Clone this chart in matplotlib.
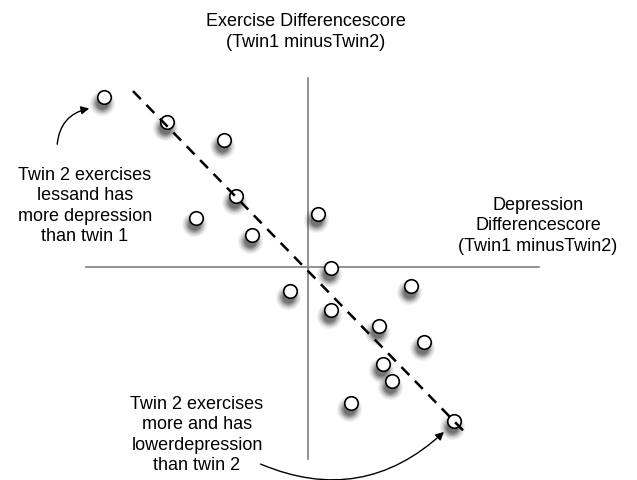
import numpy as np
import matplotlib
matplotlib.use('Agg')
import matplotlib.pyplot as plt
from matplotlib.patches import FancyArrowPatch

plt.rcParams['font.family'] = ['Liberation Sans', 'DejaVu Sans']

# difference scores (twin 1 minus twin 2)
depression_diff = [-10.2, -7.05, -4.2, -3.6, -5.6, -2.8, 0.5, 1.15, -0.9, 5.15,
                   1.15, 3.55, 5.8, 3.75, 4.2, 2.15, 7.3]
exercise_diff = [8.5, 7.25, 6.35, 3.55, 2.45, 1.6, 2.65, -0.05, -1.2, -0.95,
                 -2.15, -2.95, -3.75, -4.85, -5.7, -6.8, -7.7]

# fitted trend (dashed)
fit_x = [-8.75, 7.95]
fit_slope = -1.028
fit_intercept = -0.2

x_title = "Exercise Differencescore\n(Twin1 minusTwin2)"
y_title = "Depression\nDifferencescore\n(Twin1 minusTwin2)"
note_upper = "Twin 2 exercises\nlessand has\nmore depression\nthan twin 1"
note_lower = "Twin 2 exercises\nmore and has\nlowerdepression\nthan twin 2"

W, H = 637, 481
ORIGIN = (308, 268)
SCALE = 20.0


def px(x, y):
	# pixel position -> data position
	return (x - ORIGIN[0]) / SCALE, (ORIGIN[1] - y) / SCALE


fig = plt.figure(figsize=(W / 100, H / 100), dpi=100)
ax = fig.add_axes([0, 0, 1, 1])
x0, y0 = px(0, 0)
x1, y1 = px(W, H)
ax.set_xlim(x0, x1)
ax.set_ylim(y1, y0)
ax.axis('off')

# axis lines
vt = px(308, 79)[1]
vb = px(308, 460)[1]
hl = px(86, 268)[0]
hr = px(539, 268)[0]
ax.plot([0, 0], [vb, vt], color='#7f7f7f', lw=1.2, zorder=1)
ax.plot([hl, hr], [0, 0], color='#7f7f7f', lw=1.2, zorder=1)

# blurred drop shadows
xs = np.array(depression_diff)
ys = np.array(exercise_diff)
for size, alpha in [(330, 0.06), (260, 0.09), (200, 0.12), (150, 0.16),
                    (110, 0.2), (75, 0.25)]:
	ax.scatter(xs - 0.1, ys - 0.3, s=size, color='#202020', alpha=alpha,
	           linewidths=0, zorder=2)

ax.scatter(xs, ys, s=95, facecolor='white', edgecolor='black', linewidths=1.2, zorder=3)

fx = np.array(fit_x)
ax.plot(fx, fit_intercept + fit_slope * fx, color='black', lw=1.8,
        dashes=(4.5, 3.2), zorder=4)

fs = 13
ax.text(*px(306, 32), x_title, ha='center', va='center', fontsize=fs, linespacing=1.3)
ax.text(*px(538, 226), y_title, ha='center', va='center', fontsize=fs, linespacing=1.25)
ax.text(*px(85, 206), note_upper, ha='center', va='center', fontsize=fs, linespacing=1.25)
ax.text(*px(197, 435), note_lower, ha='center', va='center', fontsize=fs, linespacing=1.25)

a1 = FancyArrowPatch(px(57, 148), px(92, 109), connectionstyle='arc3,rad=-0.4',
                     arrowstyle='-|>', mutation_scale=12, color='black', lw=1.0, zorder=5)
a2 = FancyArrowPatch(px(258, 464), px(446, 431), connectionstyle='arc3,rad=0.33',
                     arrowstyle='-|>', mutation_scale=12, color='black', lw=1.0, zorder=5)
ax.add_patch(a1)
ax.add_patch(a2)

fig.savefig('out.png', dpi=100, facecolor='white')
